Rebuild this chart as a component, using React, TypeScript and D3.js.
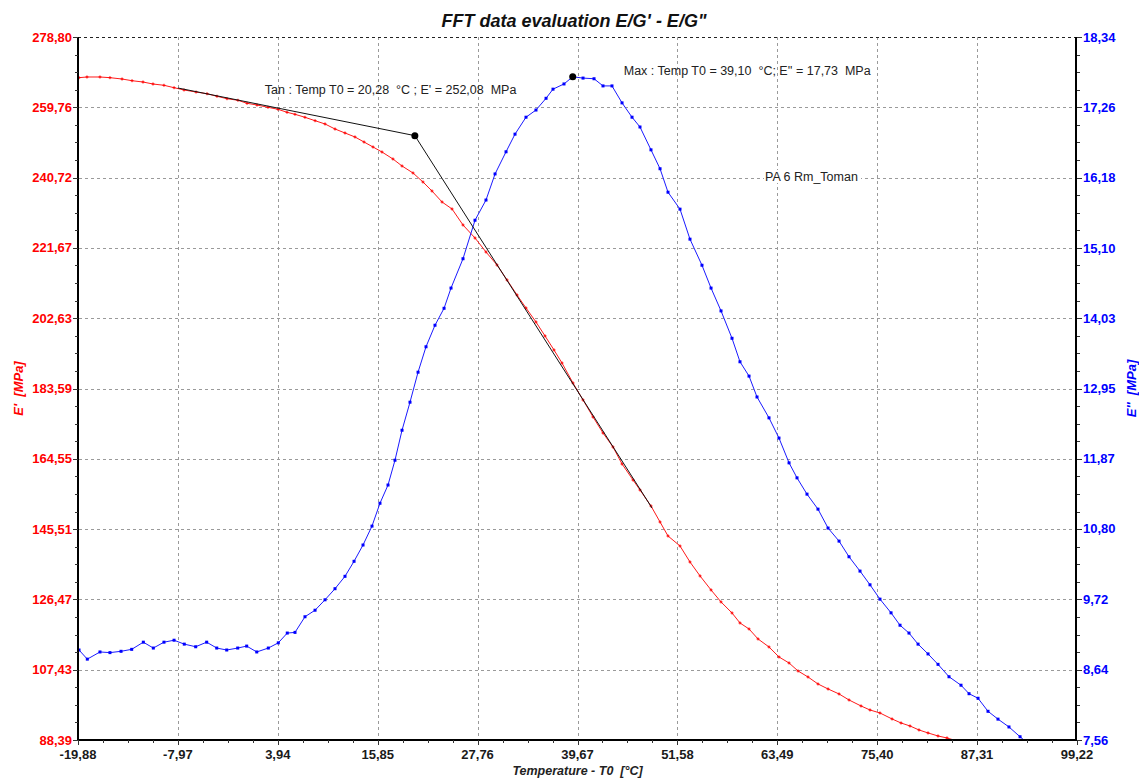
import React from "react";
import * as d3 from "d3";

// ---------- data ----------
const xTicks = [-19.88, -7.97, 3.94, 15.85, 27.76, 39.67, 51.58, 63.49, 75.4, 87.31, 99.22];
const leftTicks = [88.39, 107.43, 126.47, 145.51, 164.55, 183.59, 202.63, 221.67, 240.72, 259.76, 278.8];
const rightTicks = [7.56, 8.64, 9.72, 10.8, 11.87, 12.95, 14.03, 15.1, 16.18, 17.26, 18.34];

const storageTemp = [
  -19.76, -18.81, -17.26, -16.07, -14.63, -13.44, -12.13, -10.94, -9.63, -8.43,
  -7.24, -5.81, -4.5, -3.31, -2.12, -0.81, 0.27, 1.46, 2.77, 3.96,
  5.04, 5.99, 7.18, 8.38, 9.57, 10.76, 11.95, 13.14, 14.22, 15.29,
  16.36, 17.67, 18.75, 20.06, 21.25, 22.32, 23.52, 24.71, 26.02, 27.45,
  28.76, 30.07, 31.27, 32.46, 33.53, 34.72, 35.8, 36.87, 37.82, 39.13,
  40.33, 41.52, 42.71, 43.9, 44.98, 46.29, 47.12, 48.43, 49.51, 50.46,
  51.89, 53.08, 54.28, 55.59, 56.78, 58.09, 59.04, 60.12, 61.19, 62.5,
  63.69, 64.89, 65.96, 67.15, 68.34, 69.54, 70.85, 72.04, 73.47, 74.54,
  75.73, 77.17, 78.24, 79.31, 80.38, 81.46, 82.65, 83.72, 84.91,
];
const storageModulus = [
  267.78, 267.97, 267.97, 267.78, 267.42, 266.96, 266.61, 266.07, 265.72, 265.07,
  264.45, 263.9, 263.44, 262.74, 262.09, 261.66, 260.84, 260.38, 259.76, 259.22,
  258.41, 257.86, 257.05, 256.13, 255.24, 253.88, 252.8, 251.72, 250.36, 249.01,
  247.65, 245.76, 243.86, 241.97, 239.53, 237.09, 234.11, 232.22, 227.88, 224.36,
  220.57, 217.05, 212.99, 208.92, 205.4, 201.61, 197.82, 194.03, 190.51, 185.09,
  180.49, 175.88, 171.55, 167.76, 163.15, 158.82, 156.11, 151.78, 147.44, 143.65,
  140.94, 136.61, 132.82, 129.03, 125.78, 122.8, 120.09, 118.46, 115.76, 113.59,
  110.88, 109.25, 107.09, 105.46, 103.57, 102.21, 100.86, 99.23, 97.61, 96.52,
  95.71, 94.09, 93.0, 92.19, 91.11, 90.3, 89.48, 88.94, 88.13,
];

const lossTemp = [
  -19.76, -18.77, -17.26, -16.07, -14.75, -13.48, -12.09, -10.9, -9.63, -8.43,
  -7.21, -5.85, -4.54, -3.34, -2.15, -0.84, 0.23, 1.43, 2.81, 4.0,
  5.07, 5.99, 7.18, 8.38, 9.57, 10.76, 11.95, 13.03, 14.1, 15.17,
  16.12, 17.08, 17.91, 18.75, 19.7, 20.66, 21.61, 22.68, 23.76, 24.59,
  26.02, 27.45, 28.76, 29.84, 31.15, 32.22, 33.53, 34.72, 35.92, 36.75,
  38.06, 39.1, 40.33, 41.64, 42.71, 43.78, 44.98, 46.17, 47.12, 48.43,
  49.51, 50.46, 51.89, 53.08, 54.51, 55.59, 56.78, 58.09, 59.04, 60.12,
  61.07, 62.5, 63.69, 64.89, 65.84, 67.03, 68.34, 69.54, 70.85, 72.04,
  73.35, 74.54, 75.73, 77.05, 78.12, 79.19, 80.27, 81.46, 82.65, 83.96,
  85.39, 86.35, 87.42, 88.61, 89.8, 91.11, 92.43, 93.62,
];
const lossModulus = [
  8.94, 8.8, 8.91, 8.9, 8.92, 8.95, 9.06, 8.97, 9.06, 9.09,
  9.03, 8.99, 9.06, 8.97, 8.94, 8.97, 9.0, 8.91, 8.97, 9.05,
  9.2, 9.21, 9.45, 9.55, 9.71, 9.88, 10.07, 10.3, 10.55, 10.84,
  11.19, 11.47, 11.85, 12.31, 12.74, 13.2, 13.59, 13.92, 14.18, 14.49,
  14.94, 15.53, 15.84, 16.24, 16.58, 16.85, 17.11, 17.22, 17.4, 17.54,
  17.62, 17.73, 17.71, 17.7, 17.59, 17.59, 17.33, 17.11, 16.96, 16.61,
  16.32, 15.96, 15.7, 15.24, 14.84, 14.49, 14.14, 13.72, 13.36, 13.14,
  12.82, 12.5, 12.19, 11.81, 11.58, 11.33, 11.1, 10.81, 10.61, 10.37,
  10.15, 9.94, 9.72, 9.51, 9.32, 9.2, 9.03, 8.88, 8.72, 8.53,
  8.4, 8.27, 8.2, 8.0, 7.88, 7.76, 7.61, 7.48,
];

// tangent construction (E')
const tangentTemp = [-7.97, 20.28, 48.55];
const tangentModulus = [264.99, 252.08, 151.23];
const tanPoint = { t: 20.28, v: 252.08 };
const maxPoint = { t: 39.1, v: 17.73 };

const title = "FFT data evaluation E/G' - E/G\"";
const xTitle = "Temperature - T0  [°C]";
const leftTitle = "E'  [MPa]";
const rightTitle = "E''  [MPa]";
const tanLabel = "Tan : Temp T0 = 20,28  °C ; E' = 252,08  MPa";
const maxLabel = "Max : Temp T0 = 39,10  °C; E'' = 17,73  MPa";
const legendLabel = "PA 6 Rm_Toman";

// ---------- layout ----------
const W = 1139;
const H = 781;
const L = 78;
const R = 1077;
const T = 37;
const B = 740;
const FONT = "'Liberation Sans', Arial, sans-serif";
const PRE: React.CSSProperties = { whiteSpace: "pre" };

const fmt = (v: number) => v.toFixed(2).replace(".", ",");

export default function App() {
  const x = d3.scaleLinear().domain([xTicks[0], xTicks[xTicks.length - 1]]).range([L, R]);
  const yL = d3.scaleLinear().domain([leftTicks[0], leftTicks[leftTicks.length - 1]]).range([B, T]);
  const yR = d3.scaleLinear().domain([rightTicks[0], rightTicks[rightTicks.length - 1]]).range([B, T]);

  const redPts = storageTemp.map((t, i) => [x(t), yL(storageModulus[i])] as [number, number]);
  const bluePts = lossTemp.map((t, i) => [x(t), yR(lossModulus[i])] as [number, number]);
  const tanPts = tangentTemp.map((t, i) => [x(t), yL(tangentModulus[i])] as [number, number]);
  const line = d3.line();

  // minor ticks (4 subdivisions)
  const minorY: number[] = [];
  for (let i = 0; i < leftTicks.length - 1; i++) {
    const a = yL(leftTicks[i]);
    const b = yL(leftTicks[i + 1]);
    for (let k = 1; k < 4; k++) minorY.push(a + ((b - a) * k) / 4);
  }
  const minorX: number[] = [];
  for (let i = 0; i < xTicks.length - 1; i++) {
    const a = x(xTicks[i]);
    const b = x(xTicks[i + 1]);
    for (let k = 1; k < 4; k++) minorX.push(a + ((b - a) * k) / 4);
  }

  const tx = x(tanPoint.t);
  const ty = yL(tanPoint.v);
  const mx = x(maxPoint.t);
  const my = yR(maxPoint.v);

  return (
    <svg
      width={W}
      height={H}
      style={{ position: "absolute", left: 0, top: 0, background: "#fff" }}
      fontFamily={FONT}
    >
      <defs>
        <clipPath id="plot">
          <rect x={L} y={T} width={R - L} height={B - T} />
        </clipPath>
      </defs>
      <rect x={0} y={0} width={W} height={H} fill="#fff" />

      {/* grid */}
      <g stroke="#9a9a9a" strokeWidth={1} strokeDasharray="3,3" fill="none">
        {xTicks.slice(1, -1).map((t, i) => (
          <line key={"gx" + i} x1={Math.round(x(t)) + 0.5} x2={Math.round(x(t)) + 0.5} y1={T} y2={B} />
        ))}
        {leftTicks.slice(1, -1).map((t, i) => (
          <line key={"gy" + i} x1={L - 5} x2={R + 5} y1={Math.round(yL(t)) + 0.5} y2={Math.round(yL(t)) + 0.5} />
        ))}
      </g>
      <line x1={L} x2={R} y1={T + 0.5} y2={T + 0.5} stroke="#222" strokeDasharray="3,3" />

      {/* curves */}
      <g clipPath="url(#plot)">
        <path d={line(redPts) || ""} fill="none" stroke="#ff1a1a" strokeWidth={1} />
        {redPts.map((p, i) => (
          <g key={"rm" + i} stroke="#ff0000" strokeWidth={1}>
            <line x1={p[0] - 1.5} x2={p[0] + 1.5} y1={p[1]} y2={p[1]} />
            <line x1={p[0]} x2={p[0]} y1={p[1] - 1.5} y2={p[1] + 1.5} />
          </g>
        ))}
        <path d={line(bluePts) || ""} fill="none" stroke="#1a1aff" strokeWidth={1} />
        {bluePts.map((p, i) => (
          <rect key={"bm" + i} x={p[0] - 1.5} y={p[1] - 1.5} width={3} height={3} fill="#0000ff" />
        ))}
        <path d={line(tanPts) || ""} fill="none" stroke="#111" strokeWidth={1} />
      </g>

      {/* annotation points */}
      <circle cx={tx} cy={ty} r={3.5} fill="#000" />
      <circle cx={mx} cy={my} r={3.5} fill="#000" />
      <text x={tx - 150} y={ty - 42} fontSize={12.5} fill="#222" style={PRE}>
        {tanLabel}
      </text>
      <text x={mx + 51} y={my - 2} fontSize={12.5} fill="#222" style={PRE}>
        {maxLabel}
      </text>
      <rect x={764} y={170} width={97} height={13} fill="#fff" />
      <text x={765} y={181} fontSize={12.5} fill="#222" style={PRE}>
        {legendLabel}
      </text>

      {/* axes */}
      <line x1={L} x2={L} y1={T} y2={B + 1} stroke="#000" strokeWidth={2} />
      <line x1={R - 1} x2={R - 1} y1={T} y2={B + 1} stroke="#000" strokeWidth={2} />
      <line x1={L} x2={R} y1={B} y2={B} stroke="#000" strokeWidth={2} />

      <g stroke="#333" strokeWidth={1}>
        {leftTicks.map((t, i) => (
          <line key={"lt" + i} x1={L - 5} x2={L} y1={Math.round(yL(t)) + 0.5} y2={Math.round(yL(t)) + 0.5} />
        ))}
        {minorY.map((v, i) => (
          <line key={"lm" + i} x1={L - 3} x2={L} y1={Math.round(v) + 0.5} y2={Math.round(v) + 0.5} />
        ))}
        {rightTicks.map((t, i) => (
          <line key={"rt" + i} x1={R} x2={R + 5} y1={Math.round(yR(t)) + 0.5} y2={Math.round(yR(t)) + 0.5} />
        ))}
        {minorY.map((v, i) => (
          <line key={"rm2" + i} x1={R} x2={R + 3} y1={Math.round(v) + 0.5} y2={Math.round(v) + 0.5} />
        ))}
        {xTicks.map((t, i) => (
          <line key={"xt" + i} x1={Math.round(x(t)) + 0.5} x2={Math.round(x(t)) + 0.5} y1={B} y2={B + 5} />
        ))}
        {minorX.map((v, i) => (
          <line key={"xm" + i} x1={Math.round(v) + 0.5} x2={Math.round(v) + 0.5} y1={B} y2={B + 3} />
        ))}
      </g>

      {/* tick labels */}
      <g fontSize={13} fontWeight="bold">
        {leftTicks.map((t, i) => (
          <text key={"ll" + i} x={L - 6} y={yL(t) + 4.5} textAnchor="end" fill="#ff0000">
            {fmt(t)}
          </text>
        ))}
        {rightTicks.map((t, i) => (
          <text key={"rl" + i} x={R + 6} y={yR(t) + 4.5} textAnchor="start" fill="#0000ff">
            {fmt(t)}
          </text>
        ))}
        {xTicks.map((t, i) => (
          <text key={"xl" + i} x={x(t)} y={759} textAnchor="middle" fill="#1a1a1a">
            {fmt(t)}
          </text>
        ))}
      </g>

      {/* titles */}
      <text x={574} y={27} textAnchor="middle" fontSize={18} fontWeight="bold" fontStyle="italic" fill="#111" style={PRE}>
        {title}
      </text>
      <text x={(L + R) / 2} y={775} textAnchor="middle" fontSize={12.5} fontWeight="bold" fontStyle="italic" fill="#222" style={PRE}>
        {xTitle}
      </text>
      <text
        transform={`translate(23, ${(T + B) / 2}) rotate(-90)`}
        textAnchor="middle"
        fontSize={13}
        fontWeight="bold"
        fontStyle="italic"
        fill="#ff0000"
        style={PRE}
      >
        {leftTitle}
      </text>
      <text
        transform={`translate(1136, ${(T + B) / 2}) rotate(-90)`}
        textAnchor="middle"
        fontSize={13}
        fontWeight="bold"
        fontStyle="italic"
        fill="#0000ff"
        style={PRE}
      >
        {rightTitle}
      </text>
    </svg>
  );
}
